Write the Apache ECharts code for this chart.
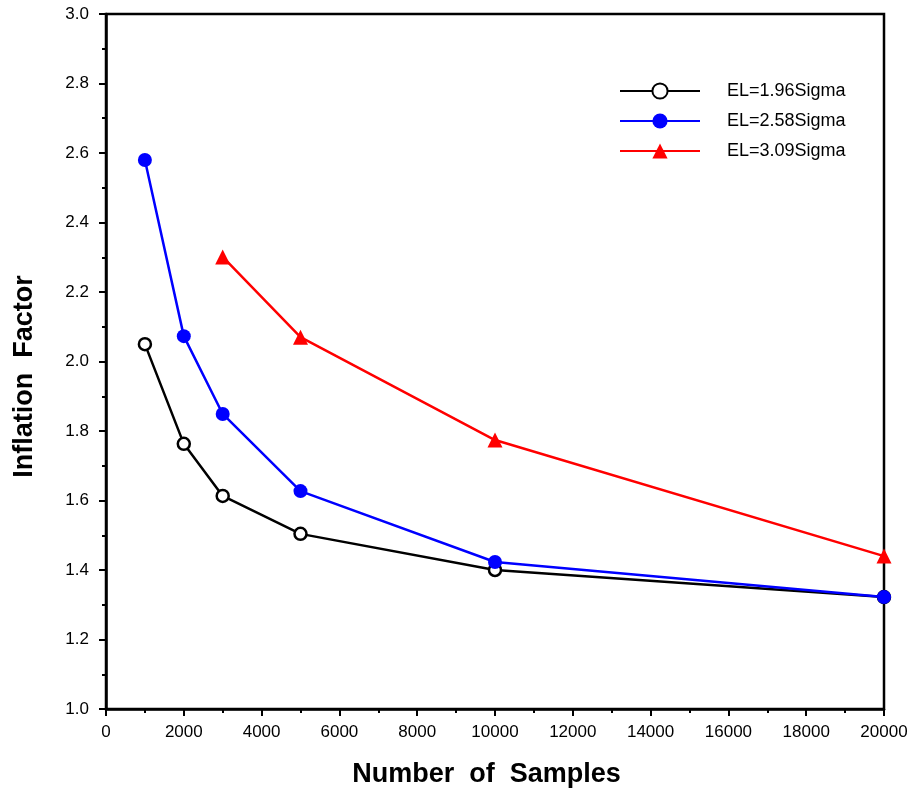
<!DOCTYPE html>
<html><head><meta charset="utf-8">
<script src="https://cdn.jsdelivr.net/npm/echarts@6/dist/echarts.min.js"></script>
<style>html,body{margin:0;padding:0;background:#fff}#c{width:917px;height:790px}</style>
</head><body><div id="c"></div>
<script>
const samples = [1000, 2000, 3000, 5000, 10000, 20000];
const el196 = [2.05, 1.763, 1.613, 1.504, 1.400, 1.322];
const el258 = [2.58, 2.073, 1.849, 1.627, 1.423, 1.322];
const samplesRed = [3000, 5000, 10000, 20000];
const el309 = [2.301, 2.070, 1.774, 1.440];
const seriesNames = ['EL=1.96Sigma', 'EL=2.58Sigma', 'EL=3.09Sigma'];

const font = 'Liberation Sans, Arial, Helvetica, sans-serif';
const chart = echarts.init(document.getElementById('c'));
const pair = (xs, ys) => xs.map((x, i) => [x, ys[i]]);
chart.setOption({
  animation: false,
  backgroundColor: '#fff',
  grid: {left: 106, right: 33, top: 14, bottom: 81, show: true, borderColor: '#000', borderWidth: 2.5,
         backgroundColor: 'transparent', containLabel: false, outerBoundsMode: 'none'},
  legend: {
    orient: 'vertical', left: 614, top: 77, itemWidth: 80, itemHeight: 19, itemGap: 12,
    textStyle: {fontFamily: font, fontSize: 18, color: '#000', padding: [0, 0, 0, 22]},
    data: seriesNames
  },
  xAxis: {
    type: 'value', min: 0, max: 20000, interval: 2000,
    name: 'Number  of  Samples', nameLocation: 'middle', nameGap: 52,
    nameTextStyle: {fontFamily: font, fontSize: 27, fontWeight: 'bold', color: '#000', padding: [0, 17, 0, 0]},
    axisLine: {show: true, lineStyle: {color: '#000', width: 2.5}},
    axisTick: {show: true, inside: false, length: 7, lineStyle: {color: '#000', width: 2}},
    minorTick: {show: true, splitNumber: 2, length: 4, lineStyle: {color: '#000', width: 2}},
    axisLabel: {fontFamily: font, fontSize: 17, color: '#000', margin: 15, formatter: v => String(v)},
    splitLine: {show: false}
  },
  yAxis: {
    type: 'value', min: 1.0, max: 3.0, interval: 0.2,
    name: 'Inflation  Factor', nameLocation: 'middle', nameGap: 68, nameRotate: 90,
    nameTextStyle: {fontFamily: font, fontSize: 27, fontWeight: 'bold', color: '#000', padding: [0, 30, 0, 0]},
    axisLine: {show: true, lineStyle: {color: '#000', width: 2.5}},
    axisTick: {show: true, inside: false, length: 7, lineStyle: {color: '#000', width: 2}},
    minorTick: {show: true, splitNumber: 2, length: 4, lineStyle: {color: '#000', width: 2}},
    axisLabel: {fontFamily: font, fontSize: 17, color: '#000', margin: 17, formatter: v => v.toFixed(1)},
    splitLine: {show: false}
  },
  series: [
    {name: seriesNames[0], type: 'line', data: pair(samples, el196), symbol: 'circle', symbolSize: 12,
     itemStyle: {color: '#fff', borderColor: '#000', borderWidth: 2.5}, lineStyle: {color: '#000', width: 2.5}, z: 3},
    {name: seriesNames[1], type: 'line', data: pair(samples, el258), symbol: 'circle', symbolSize: 14,
     itemStyle: {color: '#0000ff', borderColor: '#0000ff', borderWidth: 0}, lineStyle: {color: '#0000ff', width: 2.5}, z: 4},
    {name: seriesNames[2], type: 'line', data: pair(samplesRed, el309), symbol: 'triangle', symbolSize: 15,
     itemStyle: {color: '#ff0000'}, lineStyle: {color: '#ff0000', width: 2.5}, z: 5}
  ]
});
</script></body></html>
